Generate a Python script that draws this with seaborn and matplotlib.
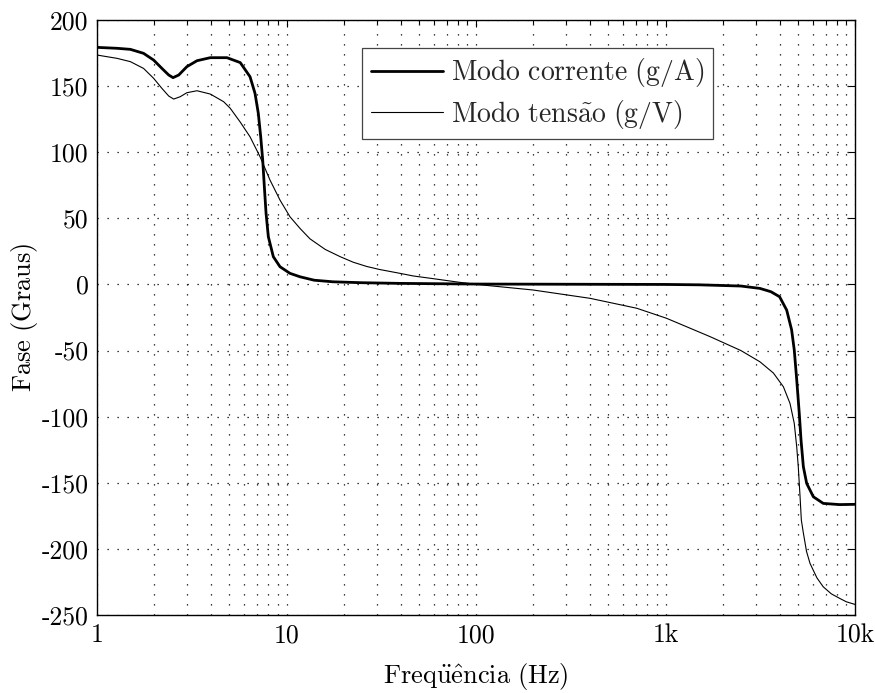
import numpy as np
import pandas as pd
import matplotlib
matplotlib.use("Agg")
import matplotlib.pyplot as plt
import seaborn as sns
from matplotlib.ticker import LogLocator, NullFormatter

# ---- data ----
freq_current = [1.0, 1.275, 1.50, 1.76, 1.99, 2.20, 2.39, 2.52, 2.70, 2.98, 3.37, 3.96, 4.85,
                5.70, 6.42, 6.82, 7.10, 7.31, 7.49, 7.64, 7.80, 8.02, 8.52, 9.24, 10.43,
                11.78, 14.0, 17.6, 25.0, 39.7, 100, 1000, 1520, 2500, 3150, 3600, 4000,
                4360, 4630, 4780, 4925, 5080, 5190, 5340, 5560, 6030, 6800, 8300, 10000]
phase_current = [179.3, 178.6, 177.8, 174.8, 169.7, 163.4, 158.4, 156.4, 158.4, 164.7, 169.2,
                 171.5, 171.5, 167.8, 157.1, 144.6, 129.4, 111.7, 94.1, 73.9, 53.8, 36.1,
                 21.0, 13.4, 8.4, 5.8, 3.2, 2.0, 1.3, 0.8, 0.3, 0.0, -0.3, -1.2, -3.0,
                 -5.5, -9.3, -19.4, -34.4, -49.5, -72.0, -97.5, -117.7, -137.9, -150.5,
                 -160.6, -165.6, -166.5, -166.3]

freq_voltage = [1.0, 1.275, 1.50, 1.76, 1.99, 2.20, 2.39, 2.54, 2.75, 2.98, 3.37, 3.96, 4.66,
                5.05, 5.68, 6.42, 7.25, 8.18, 9.24, 10.43, 11.78, 13.3, 16.0, 19.2, 22.5,
                26.5, 31.0, 39.7, 46.7, 60, 80, 101, 200, 400, 705, 1013, 1720, 2500,
                3150, 3710, 4190, 4540, 4780, 4925, 5020, 5130, 5210, 5340, 5550, 5790,
                6300, 6800, 7500, 8320, 9000, 10000]
phase_voltage = [173.5, 171.0, 168.5, 163.4, 155.9, 148.3, 142.5, 140.2, 142.0, 145.0, 146.5,
                 144.0, 138.2, 133.2, 123.1, 111.7, 96.6, 79.0, 63.8, 51.2, 42.4, 34.5,
                 26.5, 21.0, 16.8, 13.6, 11.3, 8.4, 6.4, 4.3, 1.8, 0.0, -4.2, -10.5, -18.0,
                 -25.6, -39.5, -50.0, -58.5, -67.0, -77.4, -90.0, -105.0, -122.8, -137.9,
                 -160.6, -178.2, -188.0, -202.0, -211.0, -222.0, -228.7, -234.0, -237.5,
                 -240.0, -242.0]

xtick_values = [1, 10, 100, 1000, 10000]
xtick_labels = ["1", "10", "100", "1k", "10k"]
ytick_values = [-250, -200, -150, -100, -50, 0, 50, 100, 150, 200]
ytick_labels = ["-250", "-200", "-150", "-100", "-50", "0", "50", "100", "150", "200"]

label_current = r"$\mathrm{Modo\ corrente\ (g/A)}$"
label_voltage = r"$\mathrm{Modo\ tens\tilde{a}o\ (g/V)}$"
xlabel = r"$\mathrm{Freq\ddot{u}\hat{e}ncia\ (Hz)}$"
ylabel = r"$\mathrm{Fase\ (Graus)}$"

df_c = pd.DataFrame({"f": freq_current, "phase": phase_current})
df_v = pd.DataFrame({"f": freq_voltage, "phase": phase_voltage})

sns.set_theme(style="white")
plt.rcParams["font.family"] = ["cmr10", "DejaVu Serif"]
plt.rcParams["mathtext.fontset"] = "cm"
plt.rcParams["axes.unicode_minus"] = False
plt.rcParams["axes.formatter.use_mathtext"] = True

fig = plt.figure(figsize=(8.75, 6.93), dpi=100)
ax = fig.add_axes([97/875, 1-615/693, 758/875, 595/693])

sns.lineplot(data=df_c, x="f", y="phase", ax=ax, color="black", linewidth=2.0,
             sort=False, estimator=None, label=label_current)
sns.lineplot(data=df_v, x="f", y="phase", ax=ax, color="black", linewidth=0.8,
             sort=False, estimator=None, label=label_voltage)

ax.set_xscale("log")
ax.set_xlim(1, 10000)
ax.set_ylim(-250, 200)
ax.set_xticks(xtick_values)
ax.set_xticklabels(xtick_labels)
ax.xaxis.set_minor_locator(LogLocator(base=10, subs=np.arange(2, 10)))
ax.xaxis.set_minor_formatter(NullFormatter())
ax.set_yticks(ytick_values)
ax.set_yticklabels(ytick_labels)

dot = (0, (1, 7))
ax.grid(True, which="major", axis="both", color="black", linestyle=dot, linewidth=0.9)
ax.grid(True, which="minor", axis="x", color="black", linestyle=dot, linewidth=0.9)

ax.tick_params(axis="both", which="both", direction="in", top=True, right=True,
               labelsize=18.5, colors="black", width=0.8)
ax.tick_params(axis="both", which="major", length=5, pad=6)
ax.tick_params(axis="x", which="minor", length=3)
for s in ax.spines.values():
    s.set_color("black")
    s.set_linewidth(1.0)

ax.set_xlabel(xlabel, fontsize=19, color="black", labelpad=10)
ax.set_ylabel(ylabel, fontsize=19, color="black", labelpad=1)

leg = ax.legend(loc="upper left", bbox_to_anchor=(0.35, 0.953), fontsize=20,
                frameon=True, fancybox=False, framealpha=1, edgecolor="#444444",
                handlelength=2.6, borderpad=0.3, labelspacing=0.3, handletextpad=0.3,
                borderaxespad=0)
leg.get_frame().set_linewidth(0.9)

fig.savefig("out.png", dpi=100)
